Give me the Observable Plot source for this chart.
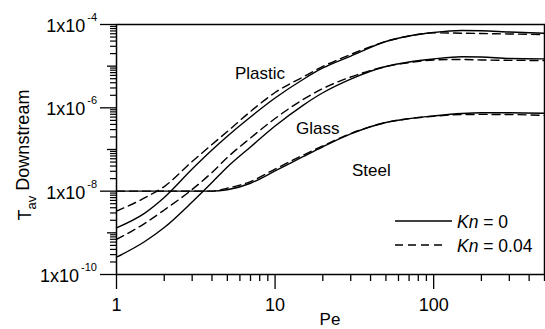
<!DOCTYPE html>
<html><head><meta charset="utf-8">
<script src="https://cdn.jsdelivr.net/npm/d3@7"></script>
<script src="https://cdn.jsdelivr.net/npm/@observablehq/plot@0.6"></script>
<style>html,body{margin:0;padding:0;background:#fff;overflow:hidden}</style>
</head><body><div id="chart"></div>
<script>
// Pe grid (x values shared by all series)
const pe = [1, 1.5, 2, 3, 4, 5, 7, 10, 15, 20, 30, 50, 70, 100, 150, 200, 300, 500];
// T_av downstream, Kn = 0 (solid) and Kn = 0.04 (dashed)
const plasticKn0   = [1.32e-9, 2.94e-9, 7.05e-9, 3.40e-8, 9.72e-8, 2.08e-7, 6.03e-7, 1.72e-6, 4.79e-6, 9.04e-6, 1.75e-5, 3.91e-5, 5.30e-5, 6.43e-5, 7.18e-5, 7.06e-5, 6.61e-5, 6.18e-5];
const plasticKn004 = [3.30e-9, 6.86e-9, 1.29e-8, 5.15e-8, 1.32e-7, 2.70e-7, 8.17e-7, 2.33e-6, 5.50e-6, 9.82e-6, 1.91e-5, 3.91e-5, 5.30e-5, 6.32e-5, 6.18e-5, 6.08e-5, 5.92e-5, 5.75e-5];
const glassKn0     = [2.60e-10, 6.10e-10, 1.34e-9, 5.50e-9, 1.61e-8, 3.80e-8, 1.15e-7, 3.66e-7, 1.15e-6, 2.30e-6, 4.90e-6, 9.80e-6, 1.26e-5, 1.49e-5, 1.68e-5, 1.66e-5, 1.53e-5, 1.50e-5];
const glassKn004   = [6.92e-10, 1.67e-9, 3.53e-9, 1.10e-8, 2.81e-8, 6.43e-8, 1.89e-7, 5.55e-7, 1.58e-6, 2.90e-6, 5.50e-6, 9.82e-6, 1.22e-5, 1.41e-5, 1.45e-5, 1.41e-5, 1.38e-5, 1.37e-5];
const steelKn0     = [1e-8, 1e-8, 1e-8, 1e-8, 1e-8, 1.08e-8, 1.55e-8, 3.05e-8, 6.7e-8, 1.16e-7, 2.37e-7, 4.46e-7, 5.5e-7, 6.4e-7, 7.33e-7, 7.65e-7, 7.63e-7, 7.4e-7];
const steelKn004   = [1e-8, 1e-8, 1e-8, 1e-8, 1e-8, 1.18e-8, 1.7e-8, 3.4e-8, 7.3e-8, 1.22e-7, 2.42e-7, 4.46e-7, 5.5e-7, 6.3e-7, 6.9e-7, 6.95e-7, 6.9e-7, 6.6e-7];

const materials = ["Plastic", "Glass", "Steel"];
const kn0Series = [plasticKn0, glassKn0, steelKn0];
const kn004Series = [plasticKn004, glassKn004, steelKn004];

// Ticks and labels
const xMajorTicks = [1, 10, 100];
const xTickLabels = ["1", "10", "100"];
const xMinorTicks = [];
for (const d of [1, 10, 100]) for (let m = 2; m <= 9; m++) if (d * m <= 500) xMinorTicks.push(d * m);
const yLabelTicks = [1e-4, 1e-6, 1e-8, 1e-10];
const yLabelBase = ["1x10", "1x10", "1x10", "1x10"];
const yLabelExp = ["-4", "-6", "-8", "-10"];
const yOddTicks = [1e-5, 1e-7, 1e-9];
const yMinorTicks = [];
for (let e = -10; e < -4; e++) for (let m = 2; m <= 9; m++) yMinorTicks.push(m * Math.pow(10, e));
const legendLabels = ["0", "0.04"];

const toRows = (series) => series.flatMap((vals, i) => vals.map((t, j) => ({pe: pe[j], t, material: materials[i]})));
const rowsKn0 = toRows(kn0Series);
const rowsKn004 = toRows(kn004Series);

const FONT = "'Liberation Sans', Arial, Helvetica, sans-serif";

function yLabelsMark(index, scales, values, dims) {
  const g = d3.create("svg:g").attr("font-size", 18).attr("text-anchor", "end").attr("fill", "black");
  yLabelTicks.forEach((v, i) => {
    const t = g.append("text").attr("x", dims.marginLeft - 19).attr("y", scales.y(v)).attr("dy", "0.44em");
    t.append("tspan").text(yLabelBase[i]);
    t.append("tspan").attr("font-size", 11).attr("dx", 2).attr("dy", "-1.0em").text(yLabelExp[i]);
  });
  return g.node();
}

function titlesMark(index, scales, values, dims) {
  const g = d3.create("svg:g").attr("fill", "black");
  const cy = (dims.marginTop + dims.height - dims.marginBottom) / 2;
  const yt = g.append("text").attr("font-size", 18).attr("text-anchor", "middle")
    .attr("transform", `translate(31,${cy + 6}) rotate(-90)`);
  yt.append("tspan").text("T");
  yt.append("tspan").attr("font-size", 13).attr("dy", "0.35em").text("av");
  yt.append("tspan").attr("dy", "-0.35em").text(" Downstream");
  const cx = (dims.marginLeft + dims.width - dims.marginRight) / 2;
  g.append("text").attr("font-size", 17).attr("text-anchor", "middle").attr("x", cx).attr("y", 324.5).text("Pe");
  return g.node();
}

function annotationsMark(index, scales, values, dims) {
  const g = d3.create("svg:g").attr("fill", "black").attr("font-size", 17).attr("text-anchor", "start");
  const ml = dims.marginLeft, mt = dims.marginTop;
  const pos = [[119, 55], [180, 109.5], [236, 152]];
  materials.forEach((m, i) => g.append("text").attr("x", ml + pos[i][0]).attr("y", mt + pos[i][1]).text(m));
  // legend
  const lg = g.append("g");
  lg.append("line").attr("x1", 395).attr("x2", 452).attr("y1", 221).attr("y2", 221)
    .attr("stroke", "black").attr("stroke-width", 1.4);
  lg.append("line").attr("x1", 395).attr("x2", 443).attr("y1", 245).attr("y2", 245)
    .attr("stroke", "black").attr("stroke-width", 1.4).attr("stroke-dasharray", "8,5");
  [227.5, 251.5].forEach((y, i) => {
    const t = lg.append("text").attr("x", 457).attr("y", y).attr("font-size", 17.5);
    t.append("tspan").attr("font-style", "italic").text("Kn");
    t.append("tspan").text(" = " + legendLabels[i]);
  });
  return g.node();
}

const chart = Plot.plot({
  width: 545,
  height: 329,
  marginLeft: 116,
  marginRight: 1,
  marginTop: 24,
  marginBottom: 55,
  style: {fontFamily: FONT, fontSize: "18px", color: "black", background: "white"},
  x: {type: "log", domain: [1, 500]},
  y: {type: "log", domain: [1e-10, 1e-4]},
  marks: [
    Plot.axisX(xMinorTicks, {tickSize: 7, tickFormat: () => "", strokeWidth: 1.3, label: null}),
    Plot.axisX(xMajorTicks, {tickSize: 15, tickPadding: 9, fontSize: 18, strokeWidth: 1.3, label: null,
      tickFormat: (d) => xTickLabels[xMajorTicks.indexOf(d)]}),
    Plot.axisY(yMinorTicks, {tickSize: 6, tickFormat: () => "", strokeWidth: 1.2, label: null}),
    Plot.axisY(yOddTicks, {tickSize: 9, tickFormat: () => "", strokeWidth: 1.3, label: null}),
    Plot.axisY(yLabelTicks, {tickSize: 16, tickFormat: () => "", strokeWidth: 1.3, label: null}),
    Plot.line(rowsKn0, {x: "pe", y: "t", z: "material", stroke: "black", strokeWidth: 1.4, curve: "monotone-x"}),
    Plot.line(rowsKn004, {x: "pe", y: "t", z: "material", stroke: "black", strokeWidth: 1.4, strokeDasharray: "8,5", curve: "monotone-x"}),
    Plot.frame({stroke: "black", strokeWidth: 1.5}),
    yLabelsMark,
    titlesMark,
    annotationsMark
  ]
});
document.getElementById("chart").appendChild(chart);
</script>
</body></html>
